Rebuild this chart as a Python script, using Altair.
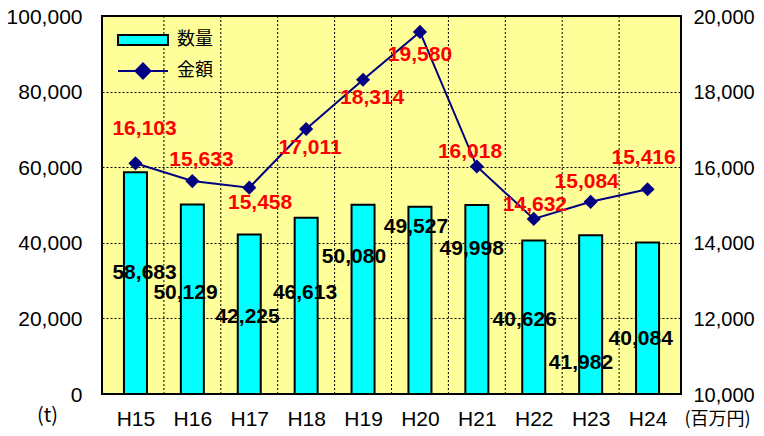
import json
import altair as alt
import pandas as pd

# ---- data ----
years = ["H15", "H16", "H17", "H18", "H19", "H20", "H21", "H22", "H23", "H24"]
qty = [58683, 50129, 42225, 46613, 50080, 49527, 49998, 40626, 41982, 40084]
amount = [16103, 15633, 15458, 17011, 18314, 19580, 16018, 14632, 15084, 15416]
# label anchors (data units) as placed in the reference
qty_label_y = [32000, 26700, 20400, 26700, 36200, 44200, 38400, 19600, 8200, 14600]
qty_label_dx = [0.16, -0.12, -0.03, -0.02, -0.16, -0.07, -0.09, -0.16, -0.17, -0.12]
amt_label_y = [17000, 16200, 15050, 16510, 17830, 18970, 16400, 15000, 15610, 16240]
amt_label_dx = [0.16, 0.16, 0.19, 0.07, 0.16, 0.0, -0.12, 0.02, -0.07, -0.07]

n = len(years)
df = pd.DataFrame({
    "idx": list(range(n)),
    "year": years,
    "qty": qty,
    "amount": amount,
    "qlx": [i + d for i, d in enumerate(qty_label_dx)],
    "qly": qty_label_y,
    "alx": [i + d for i, d in enumerate(amt_label_dx)],
    "aly": amt_label_y,
    "s_bar": ["数量"] * n,
    "s_line": ["金額"] * n,
})
bounds = pd.DataFrame({"b": [i + 0.5 for i in range(n - 1)]})

FONT = "Liberation Sans"
JP = "Noto Sans CJK JP"

xscale = alt.Scale(domain=[-0.5, n - 0.5], nice=False, zero=False)
xaxis = alt.Axis(values=list(range(n)), labelExpr=f"{json.dumps(years)}[datum.value]",
                 grid=False, ticks=False, domain=False, title=None,
                 labelFontSize=21, labelFont=FONT, labelColor="black", labelPadding=14)

yl_scale = alt.Scale(domain=[0, 100000], nice=False)
yl_axis = alt.Axis(values=[0, 20000, 40000, 60000, 80000, 100000], format=",d",
                   grid=True, gridDash=[2, 2], gridColor="black", gridWidth=1, gridOpacity=1,
                   ticks=False, domain=False, labelFontSize=21, labelFont=FONT,
                   labelColor="black", labelPadding=20,
                   labelBaseline="alphabetic", labelOffset=7,
                   title="(t)", titleAngle=0, titleX=-55, titleY=405, titleAlign="center",
                   titleBaseline="alphabetic", titleFontSize=20, titleFontWeight="normal",
                   titleFont=JP, titleColor="black")
yr_scale = alt.Scale(domain=[10000, 20000], nice=False, zero=False)
yr_axis = alt.Axis(values=[10000, 12000, 14000, 16000, 18000, 20000], format=",d",
                   orient="right", grid=False, ticks=False, domain=False,
                   labelFontSize=20, labelFont=FONT, labelColor="black", labelPadding=12,
                   labelBaseline="alphabetic", labelOffset=7,
                   title="(百万円)", titleAngle=0, titleX=36, titleY=408, titleAlign="center",
                   titleBaseline="alphabetic", titleFontSize=18, titleFontWeight="normal",
                   titleFont=JP, titleColor="black")

base = alt.Chart(df)

vgrid = alt.Chart(bounds).mark_rule(color="black", strokeWidth=1, strokeDash=[2, 2]).encode(
    x=alt.X("b:Q", scale=xscale, axis=xaxis)
)

bars = base.mark_bar(size=23, stroke="black", strokeWidth=2).encode(
    x=alt.X("idx:Q", scale=xscale, axis=xaxis),
    y=alt.Y("qty:Q", scale=yl_scale, axis=yl_axis),
    fill=alt.Fill("s_bar:N", scale=alt.Scale(domain=["数量"], range=["#00FFFF"]),
                  legend=alt.Legend(orient="none", legendX=15, legendY=-2, title=None,
                                    symbolType="M-1,-0.2H1V0.2H-1Z", symbolSize=2500,
                                    symbolStrokeColor="black", symbolStrokeWidth=2,
                                    symbolOpacity=1,
                                    labelFont=JP, labelFontSize=18, labelColor="black",
                                    labelOffset=8, padding=0)),
)

qty_text = base.mark_text(font=FONT, fontSize=21, fontWeight="bold", color="black",
                          align="center", baseline="middle").encode(
    x=alt.X("qlx:Q", scale=xscale, axis=xaxis),
    y=alt.Y("qly:Q", scale=yl_scale, axis=yl_axis),
    text=alt.Text("qty:Q", format=",d"),
)

left = alt.layer(vgrid, bars, qty_text)

line = base.mark_line(strokeWidth=2).encode(
    x=alt.X("idx:Q", scale=xscale, axis=xaxis),
    y=alt.Y("amount:Q", scale=yr_scale, axis=yr_axis),
    stroke=alt.Stroke("s_line:N", scale=alt.Scale(domain=["金額"], range=["#000080"]),
                      legend=alt.Legend(orient="none", legendX=15, legendY=29, title=None,
                                        symbolType="M-1,0H1M-0.3,0L0,-0.3L0.3,0L0,0.3Z",
                                        symbolSize=2500, symbolFillColor="#000080",
                                        symbolStrokeWidth=2, symbolOpacity=1,
                                        labelFont=JP, labelFontSize=18, labelColor="black",
                                        labelOffset=8, padding=0)),
)
pts = base.mark_point(shape="diamond", filled=True, size=200, color="#000080", opacity=1).encode(
    x=alt.X("idx:Q", scale=xscale, axis=xaxis),
    y=alt.Y("amount:Q", scale=yr_scale, axis=yr_axis),
)
amt_text = base.mark_text(font=FONT, fontSize=21, fontWeight="bold", color="#FF0000",
                          align="center", baseline="middle").encode(
    x=alt.X("alx:Q", scale=xscale, axis=xaxis),
    y=alt.Y("aly:Q", scale=yr_scale, axis=yr_axis),
    text=alt.Text("amount:Q", format=",d"),
)

right = alt.layer(line, pts, amt_text)

chart = alt.layer(left, right).resolve_scale(y="independent").properties(
    width=579, height=378,
    autosize=alt.AutoSizeParams(type="none"),
    padding={"left": 94, "top": 8, "right": 75, "bottom": 34},
    background="white",
).configure_view(fill="#FFFF99", stroke="black", strokeWidth=2)

chart.save("out.html", embed_options={"renderer": "svg", "actions": False})
